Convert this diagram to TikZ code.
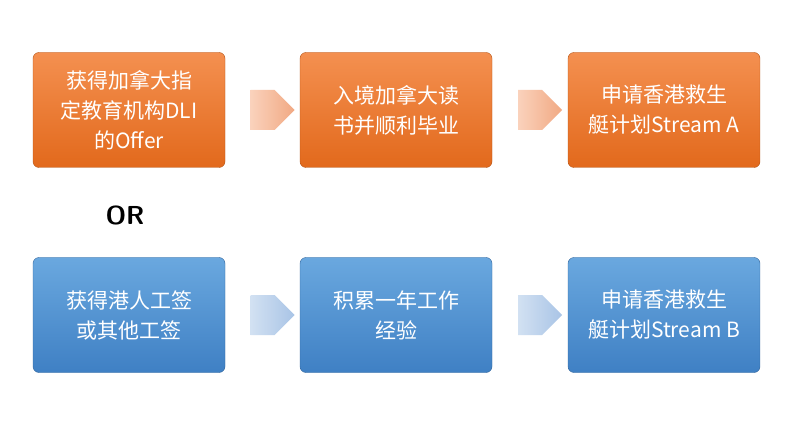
\documentclass[tikz,border=0pt]{standalone}
\usepackage{fontspec}
\newfontfamily\cjk{Noto Sans CJK SC}
\usetikzlibrary{shapes.arrows,calc}
\definecolor{orT}{HTML}{F49050}\definecolor{orB}{HTML}{E2691C}
\definecolor{blT}{HTML}{6AA8DF}\definecolor{blB}{HTML}{3F80C4}
\definecolor{oaT}{HTML}{FAD2BC}\definecolor{oaB}{HTML}{F1A983}
\definecolor{baT}{HTML}{D2E1F2}\definecolor{baB}{HTML}{A9C4E6}
\tikzset{
 box/.style={minimum width=192pt,minimum height=115pt,rounded corners=6pt,align=center,text=white,font=\cjk\fontsize{21}{30}\selectfont,inner sep=0pt},
 obox/.style={box,top color=orT,bottom color=orB,draw=orB!80!black,line width=0.4pt},
 bbox/.style={box,top color=blT,bottom color=blB,draw=blB!80!black,line width=0.4pt},
 arr/.style={single arrow,minimum height=44pt,minimum width=40pt,single arrow head extend=0pt,inner sep=0pt,shape border uses incircle},
 oarr/.style={arr,left color=oaT,right color=oaB},
 barr/.style={arr,left color=baT,right color=baB}
}
\begin{document}
\begin{tikzpicture}[x=1pt,y=-1pt]
\useasboundingbox[fill=white] (0,0) rectangle (800,430);
\node[obox] (a1) at (129,110) {获得加拿大指\\定教育机构DLI\\的Offer};
\node[obox] (a2) at (396,110) {入境加拿大读\\书并顺利毕业};
\node[obox] (a3) at (664,110) {申请香港救生\\艇计划Stream A};
\node[bbox] (b1) at (129,315) {获得港人工签\\或其他工签};
\node[bbox] (b2) at (396,315) {积累一年工作\\经验};
\node[bbox] (b3) at (664,315) {申请香港救生\\艇计划Stream B};
\node[oarr] (x1) at ($(a1.east)!0.5!(a2.west)$) {};
\node[oarr] (x2) at ($(a2.east)!0.5!(a3.west)$) {};
\node[barr] (y1) at ($(b1.east)!0.5!(b2.west)$) {};
\node[barr] (y2) at ($(b2.east)!0.5!(b3.west)$) {};
\node[font=\sffamily\bfseries\fontsize{26}{30}\selectfont] (or) at (125,215) {OR};
\end{tikzpicture}
\end{document}
